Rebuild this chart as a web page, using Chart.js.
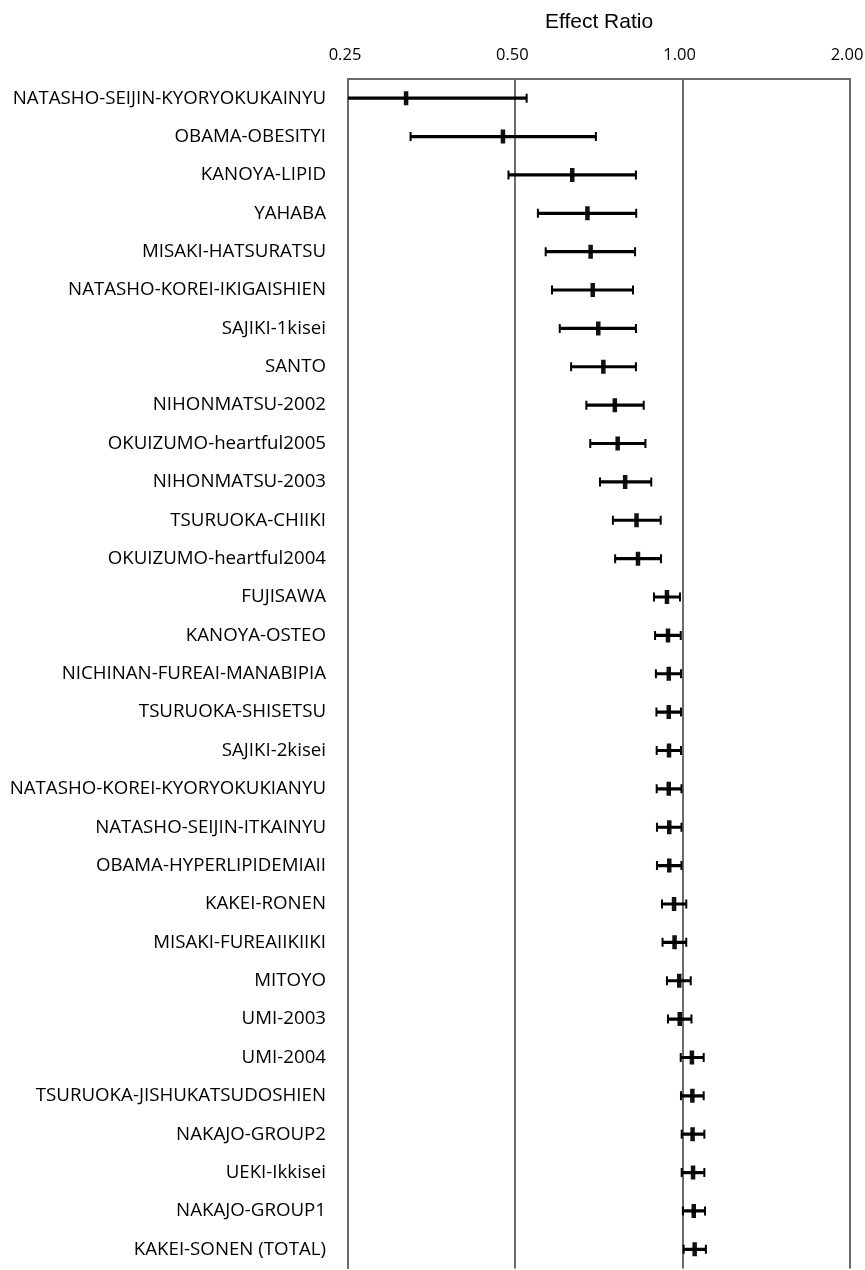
<!DOCTYPE html>
<html>
<head>
<meta charset="utf-8">
<script src="https://cdn.jsdelivr.net/npm/chart.js@4/dist/chart.umd.min.js"></script>
<style>
html,body{margin:0;padding:0;background:#fff;overflow:hidden;width:865px;height:1270px}
canvas{display:block}
</style>
</head>
<body>
<canvas id="c" width="865" height="1280"></canvas>
<script>
const studies = [
  'NATASHO-SEIJIN-KYORYOKUKAINYU','OBAMA-OBESITYI','KANOYA-LIPID','YAHABA','MISAKI-HATSURATSU',
  'NATASHO-KOREI-IKIGAISHIEN','SAJIKI-1kisei','SANTO','NIHONMATSU-2002','OKUIZUMO-heartful2005',
  'NIHONMATSU-2003','TSURUOKA-CHIIKI','OKUIZUMO-heartful2004','FUJISAWA','KANOYA-OSTEO',
  'NICHINAN-FUREAI-MANABIPIA','TSURUOKA-SHISETSU','SAJIKI-2kisei','NATASHO-KOREI-KYORYOKUKIANYU','NATASHO-SEIJIN-ITKAINYU',
  'OBAMA-HYPERLIPIDEMIAII','KAKEI-RONEN','MISAKI-FUREAIIKIIKI','MITOYO','UMI-2003',
  'UMI-2004','TSURUOKA-JISHUKATSUDOSHIEN','NAKAJO-GROUP2','UEKI-Ikkisei','NAKAJO-GROUP1',
  'KAKEI-SONEN (TOTAL)'
];
const estimate = [
  0.318,0.475,0.633,0.674,0.683,
  0.689,0.705,0.720,0.755,0.764,
  0.788,0.826,0.831,0.937,0.941,
  0.944,0.944,0.945,0.944,0.946,
  0.946,0.965,0.967,0.986,0.988,
  1.039,1.041,1.042,1.044,1.047,
  1.051
];
const lower = [
  0.23,0.324,0.486,0.549,0.567,
  0.582,0.601,0.630,0.671,0.682,
  0.710,0.749,0.756,0.888,0.892,
  0.895,0.897,0.898,0.898,0.899,
  0.899,0.918,0.920,0.937,0.941,
  0.992,0.993,0.996,0.996,1.001,
  1.004
];
const upper = [
  0.524,0.698,0.824,0.825,0.821,
  0.814,0.824,0.824,0.851,0.857,
  0.878,0.913,0.914,0.989,0.992,
  0.993,0.993,0.993,0.995,0.995,
  0.995,1.015,1.015,1.034,1.037,
  1.091,1.091,1.094,1.094,1.097,
  1.101
];
const tickValues = [0.25, 0.5, 1, 2];
const tickLabels = ['0.25', '0.50', '1.00', '2.00'];
const axisTitle = 'Effect Ratio';

const gridGrey = '#6a6a6a';

const capData = [];
studies.forEach((s, i) => {
  capData.push({x: lower[i], y: s});
  capData.push({x: upper[i], y: s});
});

new Chart(document.getElementById('c'), {
  type: 'bar',
  data: {
    labels: studies,
    datasets: [
      {
        type: 'bar',
        data: studies.map((s, i) => [lower[i], upper[i]]),
        backgroundColor: '#000',
        borderWidth: 0,
        barThickness: 2.5,
        borderSkipped: false
      },
      {
        type: 'scatter',
        data: capData,
        pointStyle: 'line',
        rotation: 90,
        radius: 4.5,
        borderWidth: 2,
        borderColor: '#000',
        backgroundColor: '#000',
        clip: 0
      },
      {
        type: 'scatter',
        data: studies.map((s, i) => ({x: estimate[i], y: s})),
        pointStyle: 'line',
        rotation: 90,
        radius: 7,
        borderWidth: 4.5,
        borderColor: '#111',
        backgroundColor: '#111',
        clip: 0
      }
    ]
  },
  options: {
    indexAxis: 'y',
    responsive: false,
    animation: false,
    devicePixelRatio: 1,
    layout: {padding: {left: 0, right: 15, top: 0, bottom: 1.3}},
    plugins: {legend: {display: false}, tooltip: {enabled: false}, title: {display: false}},
    scales: {
      x: {
        type: 'logarithmic',
        position: 'top',
        min: 0.25,
        max: 2,
        afterBuildTicks: (axis) => { axis.ticks = tickValues.map(v => ({value: v})); },
        afterFit: (s) => { s.height = 79; s.paddingLeft = 0; s.paddingRight = 0; },
        ticks: {
          autoSkip: false,
          maxRotation: 0,
          padding: 14,
          labelOffset: -3,
          color: '#000',
          font: {family: 'Open Sans', size: 16.5},
          callback: (v, i) => tickLabels[i]
        },
        grid: {color: gridGrey, lineWidth: 2, drawTicks: false},
        border: {display: true, color: gridGrey, width: 2},
        title: {
          display: true,
          text: axisTitle,
          color: '#000',
          font: {family: 'Liberation Sans', size: 21},
          padding: {top: 10, bottom: 0}
        }
      },
      y: {
        type: 'category',
        offset: true,
        afterFit: (s) => { s.width = 348; s.paddingTop = 0; s.paddingBottom = 0; },
        ticks: {
          color: '#000',
          padding: 22,
          autoSkip: false,
          font: {family: 'Open Sans', size: 18.7}
        },
        grid: {display: false, drawTicks: false},
        border: {display: true, color: gridGrey, width: 2}
      }
    }
  }
});
</script>
</body>
</html>
